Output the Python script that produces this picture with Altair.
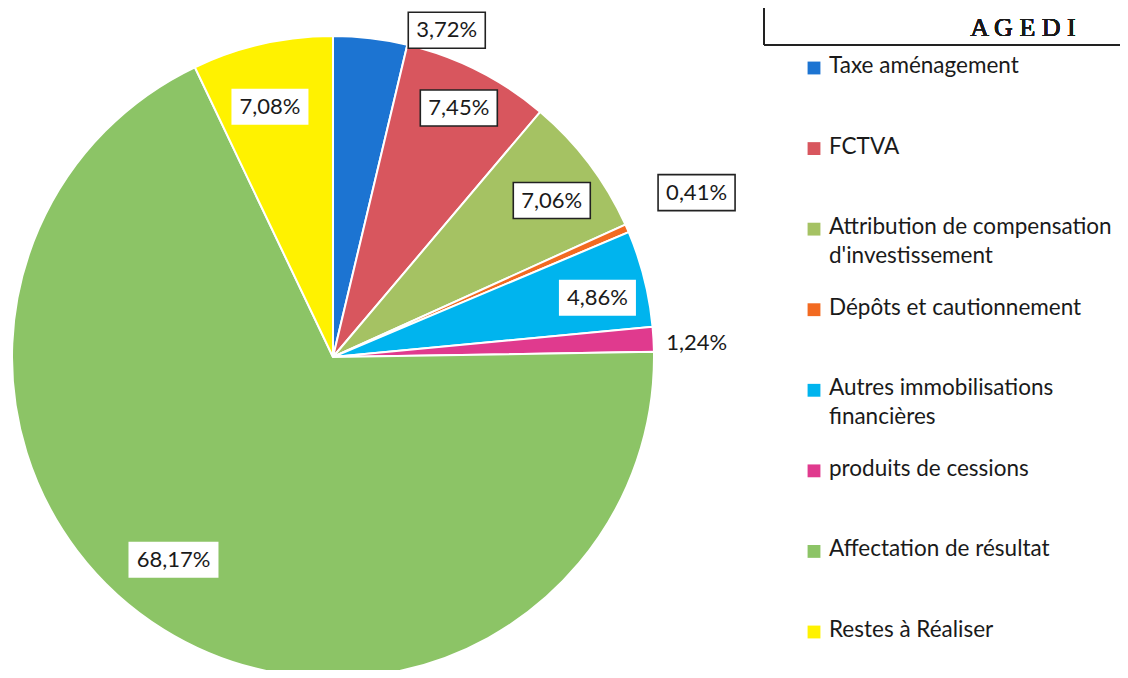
import altair as alt
import pandas as pd

# ---- data ----
categories = [
    "Taxe aménagement",
    "FCTVA",
    "Attribution de compensation d'investissement",
    "Dépôts et cautionnement",
    "Autres immobilisations financières",
    "produits de cessions",
    "Affectation de résultat",
    "Restes à Réaliser",
]
shares = [3.72, 7.45, 7.06, 0.41, 4.86, 1.24, 68.17, 7.08]
share_labels = ["3,72%", "7,45%", "7,06%", "0,41%", "4,86%", "1,24%", "68,17%", "7,08%"]
legend_texts = [
    "Taxe aménagement",
    "FCTVA",
    "Attribution de compensation\nd'investissement",
    "Dépôts et cautionnement",
    "Autres immobilisations\nfinancières",
    "produits de cessions",
    "Affectation de résultat",
    "Restes à Réaliser",
]
colors = ["#1C74D2", "#D8565E", "#A5C263", "#F26A21", "#00B4EE", "#E03A8E", "#8CC466", "#FFF200"]

# ---- label styling / layout (not data) ----
label_box = ["border", "border", "border", "border", "fill", "none", "fill", "fill"]
label_radius = [346, 279, 269, 399, 271, 364, 258, 258]
label_shift_deg = [12.5, 0, 1.5, -0.7, 1.5, 1.0, 6.4, -1.4]

CX, CY, R = 325, 349, 321

df = pd.DataFrame({
    "category": categories,
    "share": shares,
    "label": share_labels,
    "legend": legend_texts,
    "order": list(range(len(categories))),
    "box": label_box,
    "lr": label_radius,
    "shift": label_shift_deg,
})

base = alt.Chart(df)

pie = base.mark_arc(radius=R, stroke="white", strokeWidth=2).encode(
    theta=alt.Theta("share:Q", stack=True),
    order=alt.Order("order:Q"),
    color=alt.Color("category:N", scale=alt.Scale(domain=categories, range=colors), legend=None),
    x=alt.value(CX),
    y=alt.value(CY),
)

pos = base.transform_joinaggregate(total="sum(share)").transform_window(
    cum="sum(share)", sort=[alt.SortField("order")], frame=[None, 0]
).transform_calculate(
    ang="((datum.cum - datum.share/2)/datum.total)*2*PI + datum.shift*PI/180"
).transform_calculate(
    lx=f"{CX} + datum.lr*sin(datum.ang)",
    ly=f"{CY} - datum.lr*cos(datum.ang)",
    bw="13*length(datum.label) + 12",
).transform_calculate(
    bx="datum.lx - datum.bw/2",
    bx2="datum.lx + datum.bw/2",
    by="datum.ly - 18",
    by2="datum.ly + 18",
)

box_enc = dict(
    x=alt.X("bx:Q", scale=None, axis=None),
    x2="bx2:Q",
    y=alt.Y("by:Q", scale=None, axis=None),
    y2="by2:Q",
)
boxes_border = pos.transform_filter("datum.box == 'border'").mark_rect(
    fill="white", stroke="#222222", strokeWidth=1.6
).encode(**box_enc)
boxes_fill = pos.transform_filter("datum.box == 'fill'").mark_rect(
    fill="white"
).encode(**box_enc)

label_text = pos.mark_text(
    font="Lato", fontSize=22, color="#1a1a1a", align="center", baseline="middle"
).encode(
    x=alt.X("lx:Q", scale=None, axis=None),
    y=alt.Y("ly:Q", scale=None, axis=None),
    text="label:N",
)

leg_y = alt.Y("category:N", scale=alt.Scale(type="point", domain=categories, range=[60, 624], padding=0), axis=None)
leg_sym = base.mark_square(size=165, opacity=1).encode(
    x=alt.value(806),
    y=leg_y,
    color=alt.Color("category:N", scale=alt.Scale(domain=categories, range=colors), legend=None),
)
leg_txt = base.mark_text(
    font="Lato", fontSize=22.5, color="#1a1a1a", align="left", baseline="top",
    lineBreak="\n", lineHeight=29, dy=-13,
).encode(
    x=alt.value(821),
    y=leg_y,
    text="legend:N",
)

hdr_v = base.mark_rule(color="#222222", strokeWidth=2).encode(
    x=alt.value(756), y=alt.value(0), y2=alt.value(37)
)
hdr_h = base.mark_rule(color="#222222", strokeWidth=2).encode(
    x=alt.value(756), x2=alt.value(1112), y=alt.value(37)
)
hdr_t = base.mark_text(
    font="Liberation Serif", fontSize=26, fontWeight="normal", color="#1a1a1a",
    align="center", baseline="middle"
).encode(
    x=alt.value(1015), y=alt.value(20), text=alt.value("A G E D I")
)

chart = alt.layer(
    pie, boxes_border, boxes_fill, label_text, leg_sym, leg_txt, hdr_v, hdr_h, hdr_t
).resolve_scale(
    x="independent", y="independent"
).properties(
    width=1112, height=662, padding=0, autosize=alt.AutoSizeParams(type="none"), background="white"
).configure_view(stroke=None)

chart.save("out.html", embed_options={"renderer": "svg", "actions": False})
